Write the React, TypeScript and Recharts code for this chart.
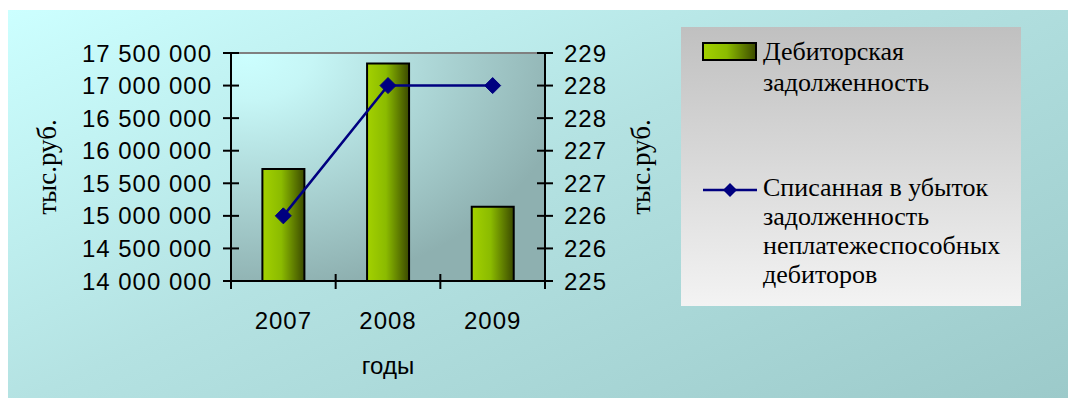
import React from 'react';
import { ComposedChart, Bar, Line, XAxis, YAxis, CartesianGrid, ReferenceLine } from 'recharts';

const years = ['2007', '2008', '2009'];
const receivables = [15720000, 17340000, 15140000];
const writtenOff = [226, 228, 228];
const leftTicks = [14000000, 14500000, 15000000, 15500000, 16000000, 16500000, 17000000, 17500000];
const rightTicks = [225, 225.5, 226, 226.5, 227, 227.5, 228, 228.5];
const seriesNames = ['Дебиторская задолженность', 'Списанная в убыток задолженность неплатежеспособных дебиторов'];
const unitLabel = 'тыс.руб.';
const xTitle = 'годы';

const data = years.map((year, i) => ({
  year,
  receivables: receivables[i],
  writtenOff: writtenOff[i],
}));

const sans = '"Liberation Sans", Arial, sans-serif';
const serif = '"Liberation Serif", "Times New Roman", serif';
const TICK = 8;
const MARGIN = 11;

const fmtThousands = (v: number) => String(v).replace(/\B(?=(\d{3})+(?!\d))/g, ' ');

function LeftTick(props: any) {
  const { x, y, payload } = props;
  const ax = x + TICK + MARGIN;
  return (
    <g>
      <line x1={ax - 8} x2={ax + 8} y1={y} y2={y} stroke="#000" strokeWidth={2} />
      <text x={x} y={y} textAnchor="end" dominantBaseline="central" fontFamily={sans} fontSize={24} letterSpacing={1} fill="#000">
        {fmtThousands(payload.value)}
      </text>
    </g>
  );
}

function RightTick(props: any) {
  const { x, y, payload } = props;
  const ax = x - TICK - MARGIN;
  return (
    <g>
      <line x1={ax - 8} x2={ax + 8} y1={y} y2={y} stroke="#000" strokeWidth={2} />
      <text x={x} y={y} textAnchor="start" dominantBaseline="central" fontFamily={sans} fontSize={24} letterSpacing={1} fill="#000">
        {Math.round(payload.value)}
      </text>
    </g>
  );
}

function BottomTick(props: any) {
  const { x, y, payload, index } = props;
  const ay = y - TICK - MARGIN;
  const half = payload.offset || 0;
  return (
    <g>
      <line x1={x - half} x2={x - half} y1={ay - 7} y2={ay + 8} stroke="#000" strokeWidth={2} />
      {index === years.length - 1 && (
        <line x1={x + half} x2={x + half} y1={ay - 7} y2={ay + 8} stroke="#000" strokeWidth={2} />
      )}
      <text x={x} y={ay + 39} textAnchor="middle" dominantBaseline="central" fontFamily={sans} fontSize={24} letterSpacing={1} fill="#000">
        {payload.value}
      </text>
    </g>
  );
}

function Diamond(props: any) {
  const { cx, cy, index } = props;
  const s = 8;
  return (
    <polygon
      key={`d-${index}`}
      points={`${cx},${cy - s} ${cx + s},${cy} ${cx},${cy + s} ${cx - s},${cy}`}
      fill="#000080"
      stroke="#000080"
      strokeWidth={1}
    />
  );
}

function LegendBox() {
  return (
    <div
      style={{
        position: 'absolute',
        left: 681,
        top: 27,
        width: 340,
        height: 279,
        background: 'linear-gradient(to bottom, #c0c0c0, #f3f3f3)',
        fontFamily: serif,
        fontSize: 26,
        color: '#000',
      }}
    >
      <svg style={{ position: 'absolute', left: 20, top: 14 }} width={58} height={22}>
        <defs>
          <linearGradient id="legBar" x1="0" y1="0" x2="1" y2="0">
            <stop offset="0" stopColor="#a3d100" />
            <stop offset="0.45" stopColor="#8bbb00" />
            <stop offset="1" stopColor="#3b4a00" />
          </linearGradient>
        </defs>
        <rect x={2} y={2} width={53} height={17} fill="url(#legBar)" stroke="#000" strokeWidth={2} />
      </svg>
      <div style={{ position: 'absolute', left: 82, top: 9, lineHeight: '31px', width: 250 }}>
        {seriesNames[0].split(' ').map((w) => (
          <div key={w}>{w}</div>
        ))}
      </div>
      <svg style={{ position: 'absolute', left: 21, top: 153 }} width={56} height={20}>
        <line x1={1} x2={55} y1={10} y2={10} stroke="#000080" strokeWidth={2.5} />
        <polygon points="28,3 35,10 28,17 21,10" fill="#000080" />
      </svg>
      <div style={{ position: 'absolute', left: 82, top: 146, lineHeight: '29px', width: 258 }}>
        <div>Списанная в убыток</div>
        <div>задолженность</div>
        <div>неплатежеспособных</div>
        <div>дебиторов</div>
      </div>
    </div>
  );
}

export default function App() {
  return (
    <div style={{ position: 'absolute', left: 0, top: 0, width: 1073, height: 402, background: '#fff' }}>
      <div
        style={{
          position: 'absolute',
          left: 8,
          top: 10,
          width: 1060,
          height: 388,
          background: 'linear-gradient(155deg, #ccffff 0%, #b4e2e2 45%, #9ccaca 100%)',
        }}
      />
      <div style={{ position: 'absolute', left: 0, top: 0 }}>
        <ComposedChart
          width={1073}
          height={402}
          data={data}
          margin={{ top: 53, right: 428, bottom: 21, left: 0 }}
          barCategoryGap="30%"
        >
          <defs>
            <radialGradient id="plotGrad" cx="0.05" cy="0" r="1.05">
              <stop offset="0" stopColor="#ccffff" />
              <stop offset="0.2" stopColor="#c6f6f6" />
              <stop offset="1" stopColor="#8eb0b0" />
            </radialGradient>
            <linearGradient id="barGrad" x1="0" y1="0" x2="1" y2="0">
              <stop offset="0" stopColor="#a3d100" />
              <stop offset="0.45" stopColor="#8bbb00" />
              <stop offset="1" stopColor="#3b4a00" />
            </linearGradient>
          </defs>
          <CartesianGrid horizontal={false} vertical={false} fill="url(#plotGrad)" fillOpacity={1} />
          <XAxis
            dataKey="year"
            height={100}
            axisLine={{ stroke: '#000', strokeWidth: 2 }}
            tickLine={false}
            tickSize={TICK}
            tickMargin={MARGIN}
            tick={<BottomTick />}
            interval={0}
            label={{ value: xTitle, position: 'insideBottom', offset: 7, fill: '#000', fontSize: 24, fontFamily: sans }}
          />
          <YAxis
            yAxisId="left"
            width={231}
            domain={[14000000, 17500000]}
            ticks={leftTicks}
            interval={0}
            axisLine={{ stroke: '#000', strokeWidth: 2 }}
            tickLine={false}
            tickSize={TICK}
            tickMargin={MARGIN}
            tick={<LeftTick />}
            label={{ value: unitLabel, angle: -90, position: 'insideLeft', offset: 46, fill: '#000', fontSize: 27, fontFamily: serif, style: { textAnchor: 'middle' } }}
          />
          <YAxis
            yAxisId="right"
            orientation="right"
            width={100}
            domain={[225, 228.5]}
            ticks={rightTicks}
            interval={0}
            axisLine={{ stroke: '#000', strokeWidth: 2 }}
            tickLine={false}
            tickSize={TICK}
            tickMargin={MARGIN}
            tick={<RightTick />}
            label={{ value: unitLabel, angle: -90, position: 'insideRight', offset: 5, fill: '#000', fontSize: 27, fontFamily: serif, style: { textAnchor: 'middle' } }}
          />
          <ReferenceLine yAxisId="left" y={17500000} stroke="#808080" strokeWidth={2} />
          <Bar
            yAxisId="left"
            dataKey="receivables"
            name={seriesNames[0]}
            fill="url(#barGrad)"
            stroke="#000"
            strokeWidth={2}
            isAnimationActive={false}
          />
          <Line
            yAxisId="right"
            dataKey="writtenOff"
            name={seriesNames[1]}
            type="linear"
            stroke="#000080"
            strokeWidth={2.5}
            dot={Diamond}
            activeDot={false}
            isAnimationActive={false}
          />
        </ComposedChart>
      </div>
      <LegendBox />
    </div>
  );
}
